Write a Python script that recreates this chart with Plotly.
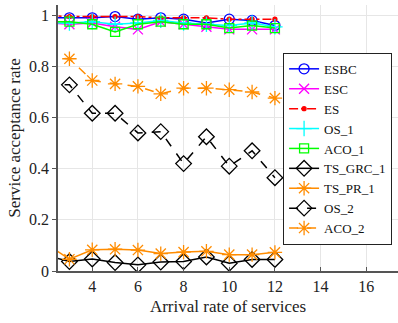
import plotly.graph_objects as go

x = [2, 3, 4, 5, 6, 7, 8, 9, 10, 11, 12]

esbc = [0.99, 0.99, 0.99, 0.995, 0.985, 0.99, 0.985, 0.97, 0.985, 0.98, 0.96]
esc = [0.97, 0.965, 0.97, 0.955, 0.945, 0.975, 0.965, 0.955, 0.945, 0.945, 0.945]
es = [1.0, 0.995, 0.995, 0.995, 0.995, 0.99, 0.99, 0.99, 0.985, 0.985, 0.985]
os_1 = [0.97, 0.97, 0.975, 0.965, 0.97, 0.98, 0.97, 0.965, 0.96, 0.97, 0.955]
aco_1 = [0.975, 0.975, 0.965, 0.935, 0.965, 0.975, 0.965, 0.965, 0.95, 0.96, 0.95]
ts_grc_1 = [0.06, 0.037, 0.047, 0.033, 0.024, 0.035, 0.037, 0.055, 0.03, 0.045, 0.045]
ts_pr_1 = [0.105, 0.046, 0.083, 0.085, 0.082, 0.068, 0.074, 0.077, 0.064, 0.064, 0.073]
os_2 = [0.73, 0.728, 0.617, 0.617, 0.54, 0.545, 0.42, 0.525, 0.41, 0.47, 0.365]
aco_2 = [0.835, 0.83, 0.745, 0.732, 0.722, 0.693, 0.715, 0.715, 0.709, 0.70, 0.676]

ORANGE = "#ff8c00"
series = [
    ("ESBC", esbc, "#0000ff", "solid", "circle-open", 10),
    ("ESC", esc, "#ff00ff", "solid", "x-thin-open", 10),
    ("ES", es, "#ff0000", "dashdot", "circle", 4),
    ("OS_1", os_1, "#00ffff", "solid", "cross-thin-open", 11),
    ("ACO_1", aco_1, "#00ff00", "solid", "square-open", 9),
    ("TS_GRC_1", ts_grc_1, "#000000", "solid", "diamond-open", 12),
    ("TS_PR_1", ts_pr_1, ORANGE, "solid", "asterisk-open", 12),
    ("OS_2", os_2, "#000000", "dash", "diamond-open", 12),
    ("ACO_2", aco_2, ORANGE, "dash", "asterisk-open", 12),
]

fig = go.Figure()
for name, ys, col, dash, sym, sz in series:
    fig.add_trace(go.Scatter(
        x=x, y=ys, name=name, mode="lines+markers",
        line=dict(color=col, width=1.5, dash=dash),
        marker=dict(symbol=sym, size=sz, color=col,
                    line=dict(color=col, width=1.3)),
    ))

SERIF = "Liberation Serif"
fig.update_layout(
    width=398, height=323,
    margin=dict(l=58, r=0, t=5, b=52),
    paper_bgcolor="white", plot_bgcolor="white",
    font=dict(family=SERIF, size=16, color="#222222"),
    showlegend=True,
    legend=dict(
        x=0.662, y=0.82, xanchor="left", yanchor="top",
        bgcolor="white", bordercolor="#222222", borderwidth=1,
        font=dict(family=SERIF, size=13, color="#111111"),
        tracegroupgap=0,
    ),
)
fig.update_xaxes(
    range=[2.5, 17.39], tickvals=[4, 6, 8, 10, 12, 14, 16],
    tickfont=dict(family=SERIF, size=16, color="#222222"),
    showgrid=True, gridcolor="#e6e6e6", gridwidth=1,
    showline=True, linecolor="#555555", linewidth=1.5,
    ticks="inside", ticklen=4, tickcolor="#555555",
    zeroline=False,
    title=dict(text="Arrival rate of services",
               font=dict(family=SERIF, size=17, color="#222222"), standoff=6),
)
fig.update_yaxes(
    range=[0, 1.0403], tickvals=[0, 0.2, 0.4, 0.6, 0.8, 1],
    ticktext=["0", "0.2", "0.4", "0.6", "0.8", "1"],
    tickfont=dict(family=SERIF, size=16, color="#222222"),
    showgrid=True, gridcolor="#e6e6e6", gridwidth=1,
    showline=True, linecolor="#555555", linewidth=1.5,
    ticks="outside", ticklen=4, tickcolor="#555555",
    zeroline=False,
    title=dict(text="Service acceptance rate",
               font=dict(family=SERIF, size=17, color="#222222"), standoff=4),
)

fig.write_html("out.html")
